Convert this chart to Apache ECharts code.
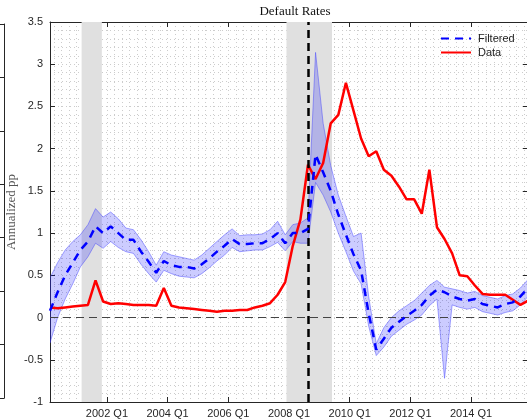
<!DOCTYPE html>
<html>
<head>
<meta charset="utf-8">
<script src="https://cdn.jsdelivr.net/npm/echarts@6/dist/echarts.min.js"></script>
<style>
  html, body { margin: 0; padding: 0; background: #fff; }
  #chart { width: 527px; height: 419px; }
</style>
</head>
<body>
<div id="chart"></div>
<script>
// Quarterly sample, 2000 Q1 .. 2015 Q4 (each quarter plotted at its mid-point)
const quarters = [];
for (let y = 2000; y <= 2015; y++) for (let q = 1; q <= 4; q++) quarters.push([y, q]);
const quarterTime = quarters.map(([y, q]) => y + (q - 1) / 4 + 0.125);

// Observed default rate (annualized pp)
const dataRate = [
  0.12, 0.11, 0.12, 0.13, 0.14, 0.15, 0.44, 0.19, 0.16, 0.17, 0.16, 0.15, 0.15, 0.15, 0.14, 0.35,
  0.14, 0.12, 0.11, 0.10, 0.09, 0.08, 0.07, 0.08, 0.08, 0.09, 0.09, 0.12, 0.14, 0.17, 0.27, 0.42,
  0.85, 1.16, 1.81, 1.64, 1.83, 2.30, 2.40, 2.78, 2.45, 2.12, 1.91, 1.97, 1.75, 1.68, 1.55, 1.40,
  1.40, 1.23, 1.75, 1.07, 0.93, 0.76, 0.50, 0.49, 0.38, 0.28, 0.27, 0.27, 0.27, 0.21, 0.15, 0.20
];

// Filtered default rate and its confidence band
const filtered = [
  0.08, 0.30, 0.50, 0.65, 0.80, 0.90, 1.08, 1.00, 1.08, 1.00, 0.92, 0.92, 0.78, 0.66, 0.53, 0.67,
  0.62, 0.60, 0.60, 0.58, 0.63, 0.70, 0.78, 0.85, 0.93, 0.87, 0.87, 0.88, 0.88, 0.93, 1.00, 0.88,
  1.00, 1.00, 1.05, 1.93, 1.72, 1.50, 1.22, 0.98, 0.75, 0.56, 0.05, -0.38, -0.25, -0.12, -0.05, 0.02,
  0.08, 0.15, 0.26, 0.33, 0.30, 0.25, 0.22, 0.20, 0.22, 0.16, 0.14, 0.12, 0.16, 0.18, 0.25, 0.35
];
const filteredUpper = [
  0.47, 0.65, 0.80, 0.90, 0.98, 1.10, 1.29, 1.19, 1.25, 1.17, 1.06, 1.04, 0.92, 0.78, 0.62, 0.78,
  0.74, 0.72, 0.70, 0.68, 0.74, 0.82, 0.90, 0.98, 1.05, 0.97, 0.98, 0.98, 0.99, 1.04, 1.14, 0.98,
  1.10, 1.12, 1.18, 3.14, 2.30, 1.80, 1.45, 1.20, 0.96, 1.00, 0.25, -0.31, -0.12, 0.00, 0.08, 0.14,
  0.20, 0.29, 0.38, 0.44, 0.36, 0.34, 0.32, 0.29, 0.31, 0.26, 0.24, 0.22, 0.26, 0.28, 0.35, 0.45
];
const filteredLower = [
  -0.30, 0.00, 0.22, 0.40, 0.60, 0.72, 0.88, 0.82, 0.90, 0.83, 0.78, 0.76, 0.63, 0.52, 0.42, 0.56,
  0.52, 0.49, 0.48, 0.47, 0.52, 0.59, 0.67, 0.74, 0.83, 0.78, 0.79, 0.80, 0.80, 0.84, 0.89, 0.79,
  0.90, 0.88, 0.88, 1.60, 1.45, 1.25, 1.00, 0.78, 0.55, 0.40, -0.10, -0.45, -0.35, -0.22, -0.15, -0.08,
  -0.03, 0.03, 0.14, 0.22, -0.72, 0.15, 0.12, 0.10, 0.12, 0.07, 0.05, 0.03, 0.06, 0.08, 0.15, 0.25
];

// NBER recessions (Mar-Nov 2001, Dec 2007-Jun 2009) and the Lehman collapse
const recessions = [[2001 + 2 / 12, 2001 + 10 / 12], [2007 + 11 / 12, 2009 + 5 / 12]];
const lehmanDate = 2008.625;

// Axis ticks
const yearTicks = [2002, 2004, 2006, 2008, 2010, 2012, 2014];
const xMin = 2000.125, xMax = 2015.875;
const yMin = -1, yMax = 3.5, yStep = 0.5;

const axisColor = '#262626';
const gridDots = { color: '#cccccc', width: 1, type: [1, 3] };
const sans = 'Liberation Sans, Arial, Helvetica, sans-serif';
const serif = 'Liberation Serif, Times New Roman, serif';

// plot box in pixels
const boxLeft = 50, boxRight = 528, boxTop = 22, boxBottom = 402;
const pxPerYear = (boxRight - boxLeft) / (xMax - xMin);

const toPairs = arr => arr.map((v, i) => [quarterTime[i], v]);
const bandData = quarterTime.map((t, i) => [t, filteredLower[i], filteredUpper[i]]);

const chart = echarts.init(document.getElementById('chart'), null, { renderer: 'canvas' });

chart.setOption({
  animation: false,
  backgroundColor: '#fff',
  title: {
    text: 'Default Rates',
    left: 290, top: 0, textAlign: 'center',
    textStyle: { fontFamily: serif, fontSize: 13, fontWeight: 'normal', color: '#111' }
  },
  legend: {
    data: ['Filtered', 'Data'],
    orient: 'vertical',
    left: 440, top: 33, padding: 0,
    itemWidth: 30, itemHeight: 12, itemGap: 3,
    itemStyle: { opacity: 0 },
    textStyle: { fontFamily: sans, fontSize: 11, color: '#222', padding: [0, 0, 0, 2] }
  },
  grid: [
    { left: boxLeft, right: 527 - boxRight, top: boxTop, bottom: 419 - boxBottom, outerBoundsMode: 'none' },
    // background grid spanning whole years, for the vertical grid lines
    {
      left: boxLeft - 0.125 * pxPerYear, right: 527 - boxRight - 0.125 * pxPerYear,
      top: boxTop, bottom: 419 - boxBottom, outerBoundsMode: 'none'
    },
    // right edge of the neighbouring panel
    { left: -200, right: 523, top: 24, bottom: 21, outerBoundsMode: 'none' }
  ],
  xAxis: [
    {
      type: 'value', gridIndex: 0, min: xMin, max: xMax, position: 'bottom',
      axisLine: { show: true, onZero: false, lineStyle: { color: axisColor, width: 1 } },
      axisTick: { show: true, inside: true, length: 5, customValues: yearTicks, lineStyle: { color: axisColor } },
      axisLabel: {
        show: true, customValues: yearTicks, margin: 6,
        formatter: v => Math.round(v) + ' Q1',
        fontFamily: sans, fontSize: 11, color: axisColor
      },
      splitLine: { show: false }
    },
    {
      type: 'value', gridIndex: 0, min: xMin, max: xMax, position: 'top',
      axisLine: { show: true, onZero: false, lineStyle: { color: axisColor, width: 1 } },
      axisTick: { show: true, inside: true, length: 5, customValues: yearTicks, lineStyle: { color: axisColor } },
      axisLabel: { show: false },
      splitLine: { show: false }
    },
    {
      type: 'value', gridIndex: 1, min: 2000, max: 2016, interval: 2,
      axisLine: { show: false }, axisTick: { show: false }, axisLabel: { show: false },
      splitLine: { show: true, showMinLine: false, showMaxLine: false, lineStyle: gridDots },
      minorTick: { show: false, splitNumber: 8 },
      minorSplitLine: { show: true, lineStyle: gridDots }
    },
    {
      type: 'value', gridIndex: 2, min: 0, max: 1, position: 'bottom',
      axisLine: { show: true, onZero: false, lineStyle: { color: axisColor, width: 1 } },
      axisTick: { show: false }, axisLabel: { show: false }, splitLine: { show: false }
    },
    {
      type: 'value', gridIndex: 2, min: 0, max: 1, position: 'top',
      axisLine: { show: true, onZero: false, lineStyle: { color: axisColor, width: 1 } },
      axisTick: { show: false }, axisLabel: { show: false }, splitLine: { show: false }
    }
  ],
  yAxis: [
    {
      type: 'value', gridIndex: 0, min: yMin, max: yMax, interval: yStep, position: 'left',
      name: 'Annualized pp', nameLocation: 'middle', nameGap: 32, nameRotate: 90,
      nameMoveOverlap: false,
      nameTextStyle: { fontFamily: serif, fontSize: 13, color: '#555' },
      axisLine: { show: true, onZero: false, lineStyle: { color: axisColor, width: 1 } },
      axisTick: { show: true, inside: true, length: 5, lineStyle: { color: axisColor } },
      axisLabel: { fontFamily: sans, fontSize: 11, color: axisColor, margin: 7 },
      splitLine: { show: true, lineStyle: gridDots },
      minorTick: { show: false, splitNumber: 5 },
      minorSplitLine: { show: true, lineStyle: gridDots }
    },
    {
      type: 'value', gridIndex: 0, min: yMin, max: yMax, interval: yStep, position: 'right',
      axisLine: { show: true, onZero: false, lineStyle: { color: axisColor, width: 1 } },
      axisTick: { show: true, inside: true, length: 5, lineStyle: { color: axisColor } },
      axisLabel: { show: false },
      splitLine: { show: false }
    },
    {
      type: 'value', gridIndex: 1, min: yMin, max: yMax, show: false,
      splitLine: { show: false }
    },
    {
      type: 'value', gridIndex: 2, min: 0, max: 7, interval: 1, position: 'right',
      axisLine: { show: true, onZero: false, lineStyle: { color: axisColor, width: 1 } },
      axisTick: { show: true, inside: true, length: 5, lineStyle: { color: axisColor } },
      axisLabel: { show: false }, splitLine: { show: false }
    }
  ],
  series: [
    {
      // recession shading
      type: 'line', xAxisIndex: 0, yAxisIndex: 0, data: [], silent: true,
      markArea: {
        silent: true,
        itemStyle: { color: '#e0e0e0' },
        data: recessions.map(([a, b]) => [{ xAxis: a }, { xAxis: b }])
      }
    },
    {
      // confidence band of the filtered series
      type: 'custom', xAxisIndex: 0, yAxisIndex: 0, z: 2, silent: true,
      data: bandData,
      encode: { x: 0, y: [1, 2] },
      clip: true,
      renderItem: (params, api) => {
        if (params.dataIndex !== 0) return null;
        const upper = bandData.map(d => api.coord([d[0], d[2]]));
        const lower = bandData.map(d => api.coord([d[0], d[1]])).reverse();
        return {
          type: 'polygon',
          shape: { points: upper.concat(lower) },
          style: { fill: 'rgba(0,0,255,0.2)', stroke: 'rgba(60,60,255,0.45)', lineWidth: 1 }
        };
      }
    },
    {
      name: 'Data', type: 'line', xAxisIndex: 0, yAxisIndex: 0, z: 4,
      data: toPairs(dataRate), showSymbol: false, symbol: 'none',
      lineStyle: { color: '#ff0000', width: 2.5 },
      itemStyle: { color: '#ff0000' }
    },
    {
      name: 'Filtered', type: 'line', xAxisIndex: 0, yAxisIndex: 0, z: 5,
      data: toPairs(filtered), showSymbol: false, symbol: 'none',
      lineStyle: { color: '#0000ff', width: 2.5, type: [8, 6] },
      itemStyle: { color: '#0000ff' }
    },
    {
      // zero line and Lehman marker
      type: 'line', xAxisIndex: 0, yAxisIndex: 0, data: [], silent: true, z: 6,
      markLine: {
        silent: true, symbol: 'none', label: { show: false },
        animation: false,
        data: [
          { yAxis: 0, lineStyle: { color: '#444', width: 1.2, type: [8, 5] } },
          { xAxis: lehmanDate, lineStyle: { color: '#000', width: 2.5, type: [8, 5] } }
        ]
      }
    }
  ]
});
</script>
</body>
</html>
